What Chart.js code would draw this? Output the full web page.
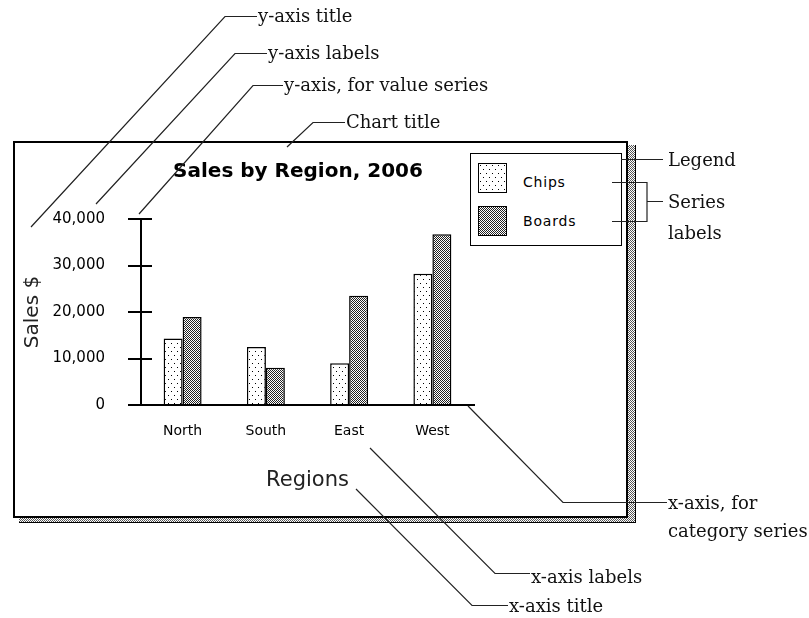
<!DOCTYPE html>
<html>
<head>
<meta charset="utf-8">
<script src="https://cdn.jsdelivr.net/npm/chart.js@4.4.1/dist/chart.umd.min.js"></script>
<style>
    body { margin: 0; width: 809px; height: 618px; background: #fff; position: relative; overflow: hidden; }
    #shadow { position: absolute; left: 19px; top: 145px; width: 617px; height: 378px; box-sizing: border-box; border-right: 1px solid #000; border-bottom: 1px solid #000; }
    #frame { position: absolute; left: 13px; top: 141px; width: 615px; height: 377px; box-sizing: border-box; border: 2px solid #000; background: #fff; }
    #myChart { position: absolute; left: 14px; top: 142px; }
    #legend { position: absolute; left: 470px; top: 153px; width: 152px; height: 93px; box-sizing: border-box; border: 1px solid #000; background: #fff; font-family: 'DejaVu Sans'; font-size: 14px; letter-spacing: 0.8px; color: #000; }
    #legend .sw { position: absolute; left: 7px; width: 29px; height: 30px; box-sizing: border-box; border: 1px solid #000; }
    #legend .lb { position: absolute; left: 52px; height: 20px; line-height: 20px; }
    #notes { position: absolute; left: 0; top: 0; }
    #notes text { font-family: 'DejaVu Serif'; font-size: 18px; fill: #111; }
    #notes path { fill: none; stroke: #222; stroke-width: 1.2; }
</style>
</head>
<body>
<div id="shadow"></div>
<div id="frame"></div>
<canvas id="myChart" width="568" height="375"></canvas>
<div id="legend"></div>
<svg id="notes" width="809" height="618">
    <path d="M31 227 L225 16.5 L257 16.5"/>
    <path d="M96 204 L235 53.5 L267 53.5"/>
    <path d="M139 214 L253 85.5 L283 85.5"/>
    <path d="M287 147 L313 122.5 L345 122.5"/>
    <path d="M621 159.5 L663 159.5"/>
    <path d="M612 182.5 L647 182.5 L647 221.5 L612 221.5 M647 201.5 L663 201.5"/>
    <path d="M468 406 L563 502.5 L667 502.5"/>
    <path d="M370 448 L495 573.5 L530 573.5"/>
    <path d="M356 489 L472 605.5 L508 605.5"/>
    <text x="258" y="22">y-axis title</text>
    <text x="268" y="59">y-axis labels</text>
    <text x="284" y="91">y-axis, for value series</text>
    <text x="346" y="128">Chart title</text>
    <text x="668" y="166">Legend</text>
    <text x="668" y="208">Series</text>
    <text x="668" y="239">labels</text>
    <text x="668" y="509">x-axis, for</text>
    <text x="668" y="537">category series</text>
    <text x="531" y="583">x-axis labels</text>
    <text x="509" y="612">x-axis title</text>
</svg>
<script>
const regions = ['North', 'South', 'East', 'West'];
const seriesNames = ['Chips', 'Boards'];
const chipsSales = [14300, 12500, 9000, 28200];
const boardsSales = [18900, 8000, 23500, 36700];
const yTickValues = [0, 10000, 20000, 30000, 40000];

// small pixel tiles for the dotted fills
function makeTile(w, h, dots, ink) {
    let c = document.createElement('canvas');
    c.width = w;
    c.height = h;
    let g = c.getContext('2d');
    g.fillStyle = '#fff';
    g.fillRect(0, 0, w, h);
    g.fillStyle = ink;
    dots.forEach(d => g.fillRect(d[0], d[1], 1, 1));
    return c;
}

const chipsTile = makeTile(6, 8, [[1, 1], [4, 5]], '#000');
const boardsTile = makeTile(2, 2, [[0, 0], [1, 1]], '#222');
const tiles = [chipsTile, boardsTile];

const patCtx = document.getElementById('myChart').getContext('2d');
const chipsFill = patCtx.createPattern(chipsTile, 'repeat');
const boardsFill = patCtx.createPattern(boardsTile, 'repeat');

document.getElementById('shadow').style.background = 'url(' + makeTile(2, 2, [[0, 0], [1, 1]], '#555').toDataURL() + ')';

// tick marks that cross the y axis
const innerTicks = {
    id: 'innerTicks',
    afterDatasetsDraw(chart) {
        let y = chart.scales.y;
        let ctx = chart.ctx;
        ctx.save();
        ctx.strokeStyle = '#000';
        ctx.lineWidth = 2;
        y.ticks.forEach(t => {
            let py = Math.round(y.getPixelForValue(t.value));
            ctx.beginPath();
            ctx.moveTo(y.right, py);
            ctx.lineTo(y.right + 11, py);
            ctx.stroke();
        });
        ctx.restore();
    }
};

Chart.defaults.font.family = 'DejaVu Sans';
Chart.defaults.color = '#000';

const data = {
    labels: regions,
    datasets: [
        {
            label: seriesNames[0],
            data: chipsSales,
            backgroundColor: chipsFill,
            borderColor: '#000',
            borderWidth: 1.5,
        },
        {
            label: seriesNames[1],
            data: boardsSales,
            backgroundColor: boardsFill,
            borderColor: '#000',
            borderWidth: 1.5,
        }
    ]
};

const config = {
    type: 'bar',
    data: data,
    plugins: [innerTicks],
    options: {
        responsive: false,
        animation: false,
        layout: { padding: 0 },
        categoryPercentage: 0.456,
        barPercentage: 1,
        plugins: {
            legend: { display: false },
            tooltip: { enabled: false },
            title: {
                display: true,
                text: 'Sales by Region, 2006',
                font: { size: 20, weight: 'bold' },
                color: '#000',
                padding: { top: 18, bottom: 35 }
            }
        },
        scales: {
            x: {
                grid: { display: false, drawTicks: false },
                border: { display: true, color: '#000', width: 2 },
                ticks: { padding: 18, font: { size: 14 }, color: '#000' },
                title: {
                    display: true,
                    text: 'Regions',
                    font: { size: 21 },
                    color: '#222',
                    padding: { top: 0, bottom: 24 }
                },
                afterFit(s) { s.height = 112; }
            },
            y: {
                min: 0,
                max: 40000,
                afterBuildTicks(s) { s.ticks = yTickValues.map(v => ({ value: v })); },
                grid: { drawOnChartArea: false, drawTicks: true, tickLength: 13, color: '#000', lineWidth: 2 },
                border: { display: true, color: '#000', width: 2 },
                ticks: {
                    padding: 23,
                    font: { size: 15 },
                    color: '#000',
                    callback: v => v.toLocaleString('en-US')
                },
                title: {
                    display: true,
                    text: 'Sales $',
                    font: { size: 20 },
                    color: '#222',
                    padding: { top: 7, bottom: 0 }
                },
                afterFit(s) { s.width = 127; }
            },
            pad: {
                position: 'right',
                display: true,
                grid: { display: false, drawTicks: false },
                border: { display: false },
                ticks: { display: false },
                afterFit(s) { s.width = 108; }
            }
        }
    }
};

let myChart = new Chart(
    document.getElementById('myChart'),
    config
);

// legend box, built from the chart's datasets
let legendBox = document.getElementById('legend');
myChart.data.datasets.forEach((ds, i) => {
    let sw = document.createElement('div');
    sw.className = 'sw';
    sw.style.top = (9 + i * 43) + 'px';
    sw.style.background = 'url(' + tiles[i].toDataURL() + ')';
    legendBox.appendChild(sw);
    let lb = document.createElement('div');
    lb.className = 'lb';
    lb.style.top = (18 + i * 39) + 'px';
    lb.textContent = ds.label;
    legendBox.appendChild(lb);
});
</script>
</body>
</html>
